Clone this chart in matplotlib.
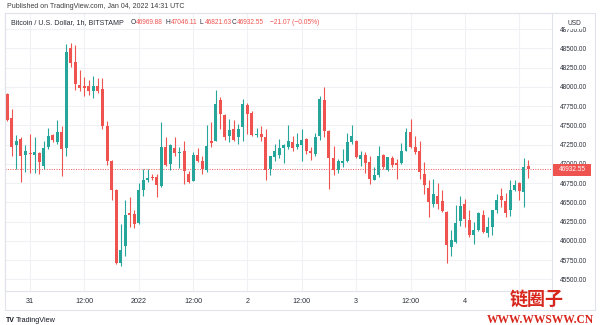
import matplotlib
matplotlib.use("Agg")
import matplotlib.pyplot as plt
from matplotlib.patches import Rectangle

plt.rcParams['font.family'] = ['Liberation Sans', 'DejaVu Sans']

# ---- data (BTC/USD 1h, Dec 30 19:00 -> Jan 4 14:00) ----
opens = [47900, 47591, 47243, 47320, 47119, 47140, 47119, 47140, 46977, 47213,
         47372, 47277, 47419, 47200, 48500, 48320, 48028, 48015, 48007, 47942,
         48015, 47972, 47490, 47033, 46664, 45711, 45926, 46355, 46342, 46235,
         46664, 46784, 46827, 46827, 46707, 47222, 46998, 47204, 47136, 47162,
         46870, 46775, 47119, 47041, 46913, 47299, 47299, 47822, 47633, 47363,
         47449, 47350, 47479, 47762, 47663, 47380, 47393, 47350, 46934, 47093,
         47119, 47204, 47222, 47277, 47213, 47247, 47316, 47170, 47127, 47363,
         47822, 47427, 47076, 46913, 47016, 47033, 47277, 47299, 47063, 47119,
         47020, 46793, 46848, 47114, 46913, 47076, 47007, 47007, 47170, 47419,
         47222, 47162, 46870, 46690, 46475, 46578, 46518, 46376, 45917, 45990,
         46261, 46475, 46269, 46076, 46140, 46334, 46106, 46183, 46398, 46578,
         46518, 46406, 46655, 46750, 46634, 46969.88]
highs = [47920, 47706, 47372, 47342, 47243, 47385, 47342, 47149, 47290, 47470,
         47393, 47565, 47492, 48551, 48564, 48543, 48221, 48122, 48092, 48135,
         48114, 48114, 47560, 47050, 46677, 46218, 46527, 46569, 46398, 46750,
         46934, 46934, 46870, 46870, 47548, 47342, 47256, 47350, 47213, 47290,
         46904, 47149, 47204, 47106, 47505, 47548, 47964, 47865, 47651, 47578,
         47565, 47522, 47835, 47792, 47685, 47470, 47492, 47449, 47101, 47256,
         47320, 47256, 47505, 47363, 47406, 47449, 47333, 47213, 47406, 47878,
         47994, 47440, 47234, 47063, 47192, 47406, 47505, 47307, 47170, 47149,
         47106, 46956, 47234, 47127, 47093, 47106, 47063, 47264, 47462, 47578,
         47363, 47290, 47020, 46784, 46805, 46750, 46655, 46389, 46140, 46462,
         46578, 46548, 46398, 46248, 46376, 46398, 46312, 46406, 46612, 46690,
         46621, 46784, 46784, 46763, 47076, 47046.11]
lows = [47550, 47106, 46934, 46763, 46891, 46880, 46878, 46861, 46934, 47192,
        47277, 47256, 46835, 47106, 48251, 47964, 47951, 47878, 47899, 47856,
        47921, 47449, 46980, 46527, 45702, 45677, 45806, 46183, 46162, 46218,
        46578, 46763, 46784, 46569, 46698, 46977, 46921, 47106, 46947, 46741,
        46754, 46771, 47020, 46870, 46891, 47213, 47290, 47449, 47307, 47277,
        47299, 47256, 47299, 47393, 47363, 47342, 47299, 46793, 46848, 47033,
        47080, 47007, 47192, 47162, 47192, 47033, 47127, 47050, 47106, 47307,
        47342, 46677, 46848, 46878, 46956, 47020, 47256, 47076, 46977, 46878,
        46741, 46784, 46827, 46934, 46904, 46964, 46805, 46998, 47162, 47204,
        47127, 46805, 46612, 46312, 46441, 46419, 46376, 45711, 45806, 45977,
        46192, 46175, 46055, 45960, 46132, 46106, 46055, 46076, 46364, 46441,
        46312, 46321, 46647, 46527, 46441, 46821.63]
closes = [47565, 47222, 47299, 47097, 47162, 47125, 47149, 47020, 47204, 47363,
          47307, 47415, 47192, 48449, 48307, 48037, 47985, 47985, 47951, 48007,
          47951, 47492, 47035, 46655, 45711, 45883, 46334, 46330, 46218, 46655,
          46784, 46818, 46818, 46720, 47213, 46990, 47243, 47136, 47153, 46904,
          46763, 47119, 47033, 46934, 47234, 47273, 47779, 47642, 47350, 47436,
          47307, 47449, 47779, 47642, 47376, 47393, 47350, 46921, 47101, 47162,
          47204, 47247, 47299, 47204, 47256, 47307, 47162, 47136, 47342, 47835,
          47427, 47076, 46913, 47033, 47041, 47286, 47359, 47084, 47119, 47007,
          46805, 46848, 47106, 46956, 47084, 46990, 46990, 47162, 47419, 47213,
          47149, 46891, 46720, 46505, 46612, 46475, 46389, 45947, 46012, 46235,
          46449, 46278, 46076, 46140, 46355, 46119, 46183, 46398, 46535, 46527,
          46355, 46655, 46720, 46647, 46956, 46932.55]

time_tick_idx = [5, 17, 29, 41, 53, 65, 77, 89, 101, 113]
time_tick_labels = ["31", "12:00", "2022", "12:00", "2", "12:00", "3", "12:00", "4", ""]
price_ticks = [45500, 45750, 46000, 46250, 46500, 46750, 47000, 47250,
               47500, 47750, 48000, 48250, 48500, 48750]
last_price = 46932.55
legend_title = "Bitcoin / U.S. Dollar, 1h, BITSTAMP"
legend_vals = [("O", "46969.88"), ("H", "47046.11"), ("L", "46821.63"), ("C", "46932.55")]
legend_change = "\u221221.07 (\u22120.05%)"

UP = '#26a69a'
DOWN = '#ef5350'
GRID = '#f0f1f4'
FRAME = '#e0e3eb'
TXT = '#2a2e39'

W, H = 600, 325
fig = plt.figure(figsize=(6, 3.25), dpi=100)
fig.patch.set_facecolor('white')

def fx(x):
    return x / W

def fy(y):
    return 1 - y / H

L_, R_, T_, B_ = 5, 552, 13, 291
ax = fig.add_axes([fx(L_), fy(B_), fx(R_ - L_), (B_ - T_) / H])
ax.set_facecolor('white')

n = len(opens)
xs = list(range(n))
colors = [UP if c >= o else DOWN for o, c in zip(opens, closes)]
ax.vlines(xs, lows, highs, colors=colors, linewidth=0.8, zorder=3)
bottoms = [min(o, c) for o, c in zip(opens, closes)]
heights = [max(abs(c - o), 10) for o, c in zip(opens, closes)]
ax.bar(xs, heights, bottom=bottoms, width=0.66, color=colors, linewidth=0, zorder=4)

ax.set_xlim(-0.52, 120.23)
ax.set_ylim(45348, 48958)

ax.set_yticks(price_ticks)
ax.set_yticklabels([f"{p:.2f}" for p in price_ticks])
ax.yaxis.tick_right()
ax.tick_params(axis='y', length=0, pad=5.5, labelsize=4.7, labelcolor=TXT)
ax.set_xticks(time_tick_idx)
ax.set_xticklabels(time_tick_labels)
ax.tick_params(axis='x', length=0, pad=5, labelsize=5.2, labelcolor=TXT)
ax.grid(True, color=GRID, linewidth=0.8, zorder=0)
ax.set_axisbelow(True)
for s in ax.spines.values():
    s.set_color(FRAME)
    s.set_linewidth(0.8)

ax.axhline(last_price, color=DOWN, linestyle=(0, (1, 1.5)), linewidth=0.7, zorder=2)

# outer frame incl. price axis and time axis
fig.patches.append(Rectangle((fx(5), fy(310)), fx(590), (310 - 13) / H,
                             transform=fig.transFigure, fill=False,
                             edgecolor=FRAME, linewidth=0.8))
fig.lines.append(plt.Line2D([fx(552), fx(552)], [fy(291), fy(310)],
                            transform=fig.transFigure, color=FRAME, linewidth=0.8))

# price tag
fig.patches.append(Rectangle((fx(553), fy(175.5)), fx(38), 11.5 / H,
                             transform=fig.transFigure, facecolor=DOWN,
                             edgecolor='none', zorder=5))
fig.text(fx(572), fy(169.8), f"{last_price:.2f}", color='white', fontsize=4.7,
         ha='center', va='center', zorder=6)
fig.text(fx(574), fy(23.5), "USD", color=TXT, fontsize=4.7, ha='center', va='center',
         zorder=6, bbox=dict(facecolor='white', edgecolor='none', pad=1.2))

# header texts
fig.text(fx(7), fy(6), "Published on TradingView.com, Jan 04, 2022 14:31 UTC",
         color='#3c3c3c', fontsize=5, ha='left', va='center')
fig.text(fx(11), fy(23), legend_title, color=TXT, fontsize=5.1, ha='left', va='center')
lx = [131, 166, 200, 232]
for (lab, val), x0 in zip(legend_vals, lx):
    fig.text(fx(x0), fy(23), lab, color=TXT, fontsize=4.8, ha='left', va='center')
    fig.text(fx(x0 + 4.5), fy(23), val, color=DOWN, fontsize=4.7, ha='left', va='center')
fig.text(fx(270), fy(23), legend_change, color=DOWN, fontsize=4.8, ha='left', va='center')

# footer
fig.text(fx(6), fy(320), "TV", color='#131722', fontsize=5, fontweight='bold',
         ha='left', va='center')
fig.text(fx(16), fy(320), "TradingView", color='#131722', fontsize=5.2,
         ha='left', va='center')

# watermark
fig.text(fx(537), fy(299.5), "链圈子", color='#d8261c', fontsize=13, fontweight='bold',
         family=['Noto Sans CJK SC', 'DejaVu Sans'], ha='center', va='center', zorder=7)
fig.text(fx(540), fy(320), "WWW.WWSWW.CN", color='#d8261c', fontsize=8.3,
         fontweight='bold', family=['Liberation Serif', 'DejaVu Serif'],
         ha='center', va='center', zorder=7)

fig.savefig("out.png", dpi=100, facecolor='white')
